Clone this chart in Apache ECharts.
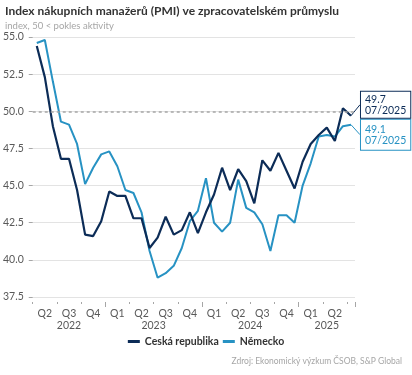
<!DOCTYPE html>
<html lang="cs">
<head>
<meta charset="utf-8">
<title>PMI</title>
<script src="https://cdn.jsdelivr.net/npm/echarts@6/dist/echarts.min.js"></script>
<style>
  html, body { margin: 0; padding: 0; background: #fff; }
  #chart { width: 412px; height: 375px; }
</style>
</head>
<body>
<div id="chart"></div>
<script>
// měsíce 04/2022 - 07/2025
var months = [
  '04/2022', '05/2022', '06/2022', '07/2022', '08/2022', '09/2022', '10/2022', '11/2022', '12/2022',
  '01/2023', '02/2023', '03/2023', '04/2023', '05/2023', '06/2023', '07/2023', '08/2023', '09/2023',
  '10/2023', '11/2023', '12/2023',
  '01/2024', '02/2024', '03/2024', '04/2024', '05/2024', '06/2024', '07/2024', '08/2024', '09/2024',
  '10/2024', '11/2024', '12/2024',
  '01/2025', '02/2025', '03/2025', '04/2025', '05/2025', '06/2025', '07/2025'
];

var czValues = [
  54.4, 52.3, 49.0, 46.8, 46.8, 44.7, 41.7, 41.6, 42.6,
  44.6, 44.3, 44.3, 42.8, 42.8, 40.8, 41.5, 42.9, 41.7, 42.0, 43.2, 41.8,
  43.2, 44.4, 46.2, 44.7, 46.1, 45.3, 43.8, 46.7, 46.0, 47.2, 46.0, 44.8,
  46.6, 47.8, 48.4, 48.9, 48.0, 50.2, 49.7
];

var deValues = [
  54.6, 54.8, 52.0, 49.3, 49.1, 47.8, 45.1, 46.2, 47.1,
  47.3, 46.3, 44.7, 44.5, 43.2, 40.6, 38.8, 39.1, 39.6, 40.8, 42.6, 43.3,
  45.5, 42.5, 41.9, 42.5, 45.4, 43.5, 43.2, 42.4, 40.6, 43.0, 43.0, 42.5,
  45.0, 46.5, 48.3, 48.4, 48.3, 49.0, 49.1
];

var seriesNames = ['Ceská republika', 'Německo'];
var colors = ['#0c2c57', '#2792c3'];

var yMin = 37.5, yMax = 55, yStep = 2.5;
var threshold = 50;

// pozice popisků roků = střed viditelné části roku
var years = [];
months.forEach(function (m, i) {
  var y = m.slice(3);
  var last = years[years.length - 1];
  if (!last || last.year !== y) years.push({ year: y, first: i, last: i });
  else last.last = i;
});
var yearPos = {};
years.forEach(function (y) { yearPos[((y.first + y.last + 1) / 2).toFixed(1)] = y.year; });

var chart = echarts.init(document.getElementById('chart'));
var FONT = 'Lato, sans-serif';

// popisek jen u posledního bodu
function lastPoint(values, color, pad) {
  var n = values.length - 1;
  return values.map(function (v, i) {
    if (i !== n) return v;
    return {
      value: v,
      label: {
        show: true,
        position: 'right',
        distance: 4,
        formatter: v.toFixed(1) + '\n' + months[n],
        color: color,
        fontFamily: FONT,
        fontSize: 10.5,
        lineHeight: 11,
        backgroundColor: '#fff',
        borderColor: color,
        borderWidth: 1,
        padding: pad
      },
      labelLine: { show: true, lineStyle: { color: color, width: 1 } }
    };
  });
}

var option = {
  animation: false,
  textStyle: { fontFamily: FONT },
  title: [
    {
      text: 'Index nákupních manažerů (PMI) ve zpracovatelském průmyslu',
      left: 0, top: 0,
      textStyle: { fontSize: 12, fontWeight: 'bold', color: '#333', fontFamily: FONT }
    },
    {
      text: 'index, 50 < pokles aktivity',
      left: 0, top: 16,
      textStyle: { fontSize: 9.5, fontWeight: 'normal', color: '#a6a6a6', fontFamily: FONT }
    },
    {
      text: 'Zdroj: Ekonomický výzkum ČSOB, S&P Global',
      right: 5, top: 352,
      textStyle: { fontSize: 8.5, fontWeight: 'normal', color: '#a6a6a6', fontFamily: FONT }
    }
  ],
  legend: {
    data: seriesNames,
    left: 'center',
    top: 331,
    icon: 'rect',
    itemWidth: 12,
    itemHeight: 3,
    itemGap: 4,
    textStyle: { fontSize: 10.5, fontWeight: 'bold', color: '#333', fontFamily: FONT }
  },
  grid: { left: 32, right: 57, top: 37, bottom: 78 },
  xAxis: [
    {
      type: 'category',
      data: months,
      position: 'bottom',
      offset: 5,
      axisLine: { show: false },
      axisTick: {
        show: true, length: 2,
        interval: function (i) { return i % 3 === 0; },
        lineStyle: { color: '#a6a6a6' }
      },
      axisLabel: {
        interval: function (i, m) { return Number(m.slice(0, 2)) % 3 === 2; },
        formatter: function (m) { return 'Q' + Math.ceil(Number(m.slice(0, 2)) / 3); },
        color: '#595959', fontSize: 10.5, margin: 6, fontFamily: FONT
      },
      splitLine: { show: false }
    },
    {
      type: 'category',
      data: months,
      position: 'bottom',
      offset: 5,
      axisLine: { show: false },
      axisTick: {
        show: true, length: 5,
        interval: function (i, m) { return i > 0 && m.slice(0, 2) === '01'; },
        lineStyle: { color: '#a6a6a6' }
      },
      axisLabel: { show: false },
      splitLine: { show: false }
    },
    {
      type: 'value',
      min: 0, max: months.length, interval: 0.5,
      position: 'bottom',
      offset: 5,
      axisLine: { show: false },
      axisTick: { show: false },
      splitLine: { show: false },
      axisLabel: {
        formatter: function (v) { return yearPos[v.toFixed(1)] || ''; },
        color: '#595959', fontSize: 10.5, margin: 18, fontFamily: FONT
      }
    }
  ],
  yAxis: {
    type: 'value',
    min: yMin, max: yMax, interval: yStep,
    axisLine: { show: false },
    axisTick: { show: true, length: 4, lineStyle: { color: '#a6a6a6' } },
    axisLabel: {
      formatter: function (v) { return v.toFixed(1); },
      color: '#595959', fontSize: 10.5, margin: 9, fontFamily: FONT
    },
    splitLine: { lineStyle: { color: '#e3e3e3', width: 1.2 } }
  },
  series: [
    {
      name: seriesNames[0],
      type: 'line',
      xAxisIndex: 0,
      z: 3,
      data: lastPoint(czValues, colors[0], [2, 4]),
      color: colors[0],
      showSymbol: true,
      showAllSymbol: true,
      symbol: 'circle',
      symbolSize: 0.01,
      labelLayout: { dx: 6, dy: -11 },
      lineStyle: { width: 2.2, color: colors[0] },
      markLine: {
        silent: true,
        symbol: 'none',
        label: { show: false },
        lineStyle: { type: [3, 3], color: '#a6a6a6', width: 1.5 },
        data: [{ yAxis: threshold }]
      }
    },
    {
      name: seriesNames[1],
      type: 'line',
      xAxisIndex: 0,
      z: 2,
      data: lastPoint(deValues, colors[1], [4, 4]),
      color: colors[1],
      showSymbol: true,
      showAllSymbol: true,
      symbol: 'circle',
      symbolSize: 0.01,
      labelLayout: { dx: 6, dy: 10 },
      lineStyle: { width: 2, color: colors[1] }
    }
  ]
};

chart.setOption(option);
</script>
</body>
</html>
